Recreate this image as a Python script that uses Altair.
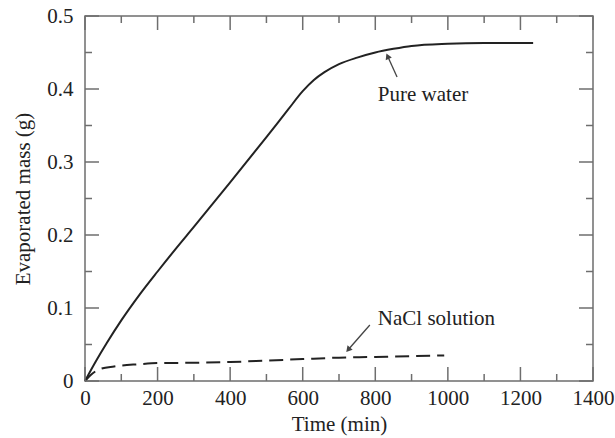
import altair as alt
import pandas as pd

# ---- data ----
water_t = [0, 30, 60, 100, 150, 200, 250, 300, 400, 500, 560, 600, 630, 660, 700, 750, 800, 850, 900, 1000, 1100, 1235]
water_m = [0, 0.027, 0.052, 0.083, 0.118, 0.150, 0.181, 0.211, 0.272, 0.334, 0.372, 0.397, 0.412, 0.423, 0.434,
           0.443, 0.450, 0.455, 0.459, 0.462, 0.463, 0.463]

nacl_t = [0, 15, 40, 80, 150, 200, 300, 400, 500, 600, 700, 800, 900, 990]
nacl_m = [0, 0.008, 0.016, 0.020, 0.023, 0.0245, 0.025, 0.026, 0.028, 0.030, 0.032, 0.033, 0.034, 0.035]

x_major = [0, 200, 400, 600, 800, 1000, 1200, 1400]
x_minor = [100, 300, 500, 700, 900, 1100, 1300]
y_major = [0, 0.1, 0.2, 0.3, 0.4, 0.5]
y_minor = [0.05, 0.15, 0.25, 0.35, 0.45]

labels = ["Pure water", "NaCl solution"]
label_t = [807, 807]
label_m = [0.3836, 0.0767]
arrow_t1 = [860, 785]
arrow_m1 = [0.4164, 0.0767]
arrow_t2 = [835, 727]
arrow_m2 = [0.4438, 0.0438]
arrow_angle = [336, 221]

W, H = 508, 365
FONT = "Liberation Serif"
INK = "#222222"
AX = "#6e6e6e"

xs = alt.Scale(domain=[0, 1400], nice=False, zero=False)
ys = alt.Scale(domain=[0, 0.5], nice=False, zero=False)

x_axis = alt.Axis(
    values=x_major, title="Time (min)", grid=False, ticks=False, domain=False, format="d",
    labelFont=FONT, labelFontSize=21, labelColor=INK, labelPadding=6, labelFlush=False,
    titleFont=FONT, titleFontSize=21, titleFontWeight="normal", titleColor=INK,
    titleX=W / 2, titleY=49, titleBaseline="alphabetic", titleAlign="center")
y_axis = alt.Axis(
    values=y_major, title="Evaporated mass (g)", grid=False, ticks=False, domain=False,
    labelExpr="datum.value == 0 ? '0' : format(datum.value, '.1f')",
    labelFont=FONT, labelFontSize=21, labelColor=INK, labelPadding=12, labelFlush=False,
    labelBaseline="middle",
    titleFont=FONT, titleFontSize=21, titleFontWeight="normal", titleColor=INK,
    titleX=-62, titleY=H / 2, titleAngle=270, titleAlign="center", titleBaseline="middle")


def X(field):
    return alt.X(field, scale=xs, axis=x_axis)


def Y(field):
    return alt.Y(field, scale=ys, axis=y_axis)


water = pd.DataFrame({"t": water_t, "m": water_m})
nacl = pd.DataFrame({"t": nacl_t, "m": nacl_m})
ann = pd.DataFrame({"label": labels, "t": label_t, "m": label_m,
                    "t1": arrow_t1, "m1": arrow_m1, "t2": arrow_t2, "m2": arrow_m2,
                    "ang": arrow_angle})

water_line = alt.Chart(water).mark_line(color=INK, strokeWidth=2, interpolate="monotone").encode(
    x=X("t:Q"), y=Y("m:Q"))

nacl_line = alt.Chart(nacl).mark_line(color=INK, strokeWidth=2, strokeDash=[14, 7],
                                      interpolate="monotone").encode(
    x=X("t:Q"), y=Y("m:Q"))


def xticks(vals, length):
    df = pd.DataFrame({"v": vals})
    bottom = alt.Chart(df).mark_rule(color=AX, strokeWidth=1.5).encode(
        x=X("v:Q"), y=alt.value(H), y2=alt.value(H - length))
    top = alt.Chart(df).mark_rule(color=AX, strokeWidth=1.5).encode(
        x=X("v:Q"), y=alt.value(0), y2=alt.value(length))
    return [bottom, top]


def yticks(vals, length):
    df = pd.DataFrame({"v": vals})
    left = alt.Chart(df).mark_rule(color=AX, strokeWidth=1.5).encode(
        y=Y("v:Q"), x=alt.value(0), x2=alt.value(length))
    right = alt.Chart(df).mark_rule(color=AX, strokeWidth=1.5).encode(
        y=Y("v:Q"), x=alt.value(W), x2=alt.value(W - length))
    return [left, right]


tick_layers = xticks(x_major, 14) + xticks(x_minor, 7) + yticks(y_major, 14) + yticks(y_minor, 7)

texts = alt.Chart(ann).mark_text(font=FONT, fontSize=21, color=INK, align="left",
                                 baseline="alphabetic").encode(
    x=X("t:Q"), y=Y("m:Q"), text="label:N")

arrow_lines = alt.Chart(ann).mark_rule(color="#444444", strokeWidth=1.3).encode(
    x=X("t1:Q"), y=Y("m1:Q"), x2="t2:Q", y2="m2:Q")

arrow_heads = alt.Chart(ann).mark_point(shape="triangle", filled=True, color="#444444",
                                        size=45, opacity=1).encode(
    x=X("t2:Q"), y=Y("m2:Q"), angle=alt.Angle("ang:Q", scale=None))

chart = alt.layer(water_line, nacl_line, *tick_layers, texts, arrow_lines, arrow_heads).properties(
    width=W, height=H,
    padding={"left": 85, "top": 16, "right": 22, "bottom": 57},
    autosize=alt.AutoSizeParams(type="none"),
    background="white",
).configure_view(stroke=AX, strokeWidth=1.5)

chart.save("out.html", embed_options={"renderer": "svg", "actions": False})
